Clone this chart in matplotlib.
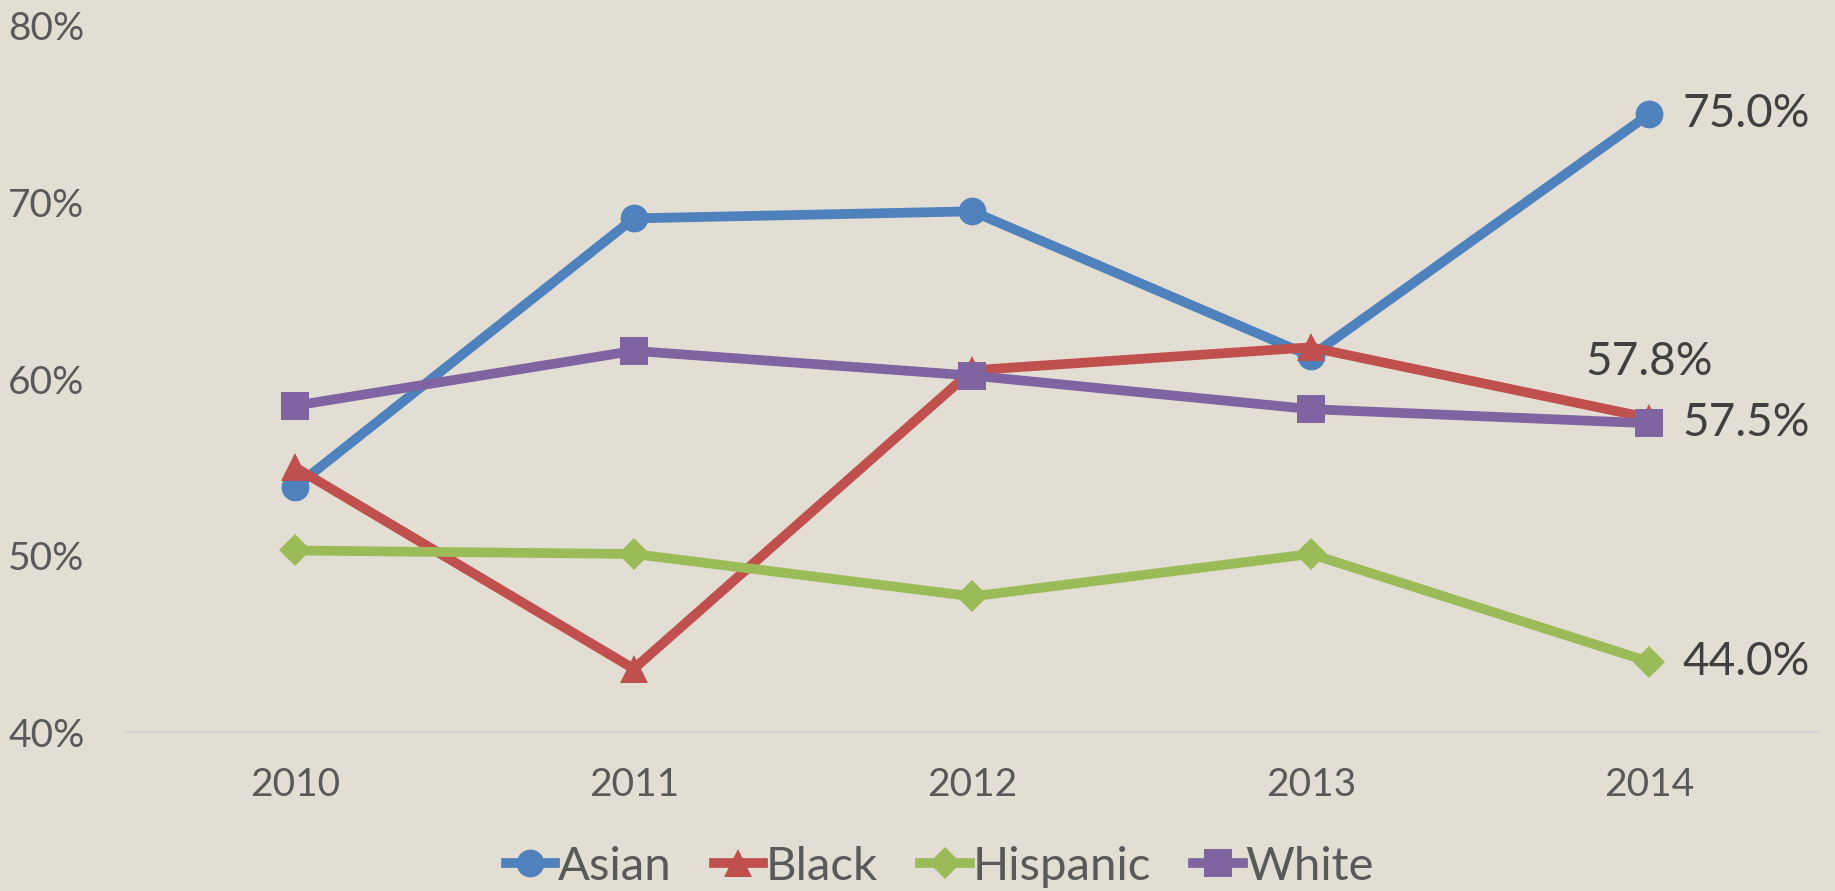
import matplotlib
matplotlib.use("Agg")
import matplotlib.pyplot as plt
from matplotlib.ticker import FuncFormatter

plt.rcParams["font.family"] = ["Lato", "DejaVu Sans"]

years = ["2010", "2011", "2012", "2013", "2014"]
asian = [53.9, 69.1, 69.5, 61.3, 75.0]
black = [55.0, 43.6, 60.5, 61.8, 57.8]
hispanic = [50.3, 50.1, 47.7, 50.1, 44.0]
white = [58.5, 61.6, 60.2, 58.3, 57.5]

series = [
    ("Asian", asian, "#4F81BD", "o"),
    ("Black", black, "#C0504D", "^"),
    ("Hispanic", hispanic, "#9BBB59", "D"),
    ("White", white, "#8064A2", "s"),
]

bg = "#E3DED3"
fig = plt.figure(figsize=(18.35, 8.91), dpi=100, facecolor=bg)
ax = fig.add_axes([0.0687, 0.178, 0.9223, 0.793])
ax.set_facecolor(bg)

x = list(range(len(years)))
handles = []
for name, vals, color, marker in series:
    ms = 20 if marker != "D" else 16
    (h,) = ax.plot(
        x, vals, color=color, linewidth=7, marker=marker, markersize=ms,
        markeredgewidth=0, solid_joinstyle="round", label=name, clip_on=False,
    )
    handles.append(h)

ax.set_xlim(-0.5, 4.5)
ax.set_ylim(40, 80)
ax.set_yticks([40, 50, 60, 70, 80])
ax.yaxis.set_major_formatter(FuncFormatter(lambda v, p: f"{v:.0f}%"))
ax.set_xticks(x)
ax.set_xticklabels(years)

for side in ["top", "right", "left"]:
    ax.spines[side].set_visible(False)
ax.spines["bottom"].set_color("#D5D5D5")
ax.spines["bottom"].set_linewidth(1.5)
ax.tick_params(axis="y", length=0, pad=30, labelsize=28, labelcolor="#595959")
ax.tick_params(axis="x", length=0, pad=25, labelsize=28, labelcolor="#595959")

# end labels
lab_kw = dict(fontsize=33, color="#404040", va="center")
ax.annotate(f"{asian[-1]:.1f}%", (4, asian[-1]), xytext=(24, 0),
            textcoords="offset points", ha="left", **lab_kw)
ax.annotate(f"{black[-1]:.1f}%", (4, black[-1]), xytext=(0, 40),
            textcoords="offset points", ha="center", **lab_kw)
ax.annotate(f"{white[-1]:.1f}%", (4, white[-1]), xytext=(24, 0),
            textcoords="offset points", ha="left", **lab_kw)
ax.annotate(f"{hispanic[-1]:.1f}%", (4, hispanic[-1]), xytext=(24, 0),
            textcoords="offset points", ha="left", **lab_kw)

leg = fig.legend(
    handles, [s[0] for s in series], loc="center", bbox_to_anchor=(0.512, 0.027),
    ncol=4, frameon=False, fontsize=34, handlelength=1.05, handletextpad=0.05,
    columnspacing=0.9, markerscale=1.0,
)
for t in leg.get_texts():
    t.set_color("#595959")

fig.savefig("out.png", dpi=100, facecolor=bg)
